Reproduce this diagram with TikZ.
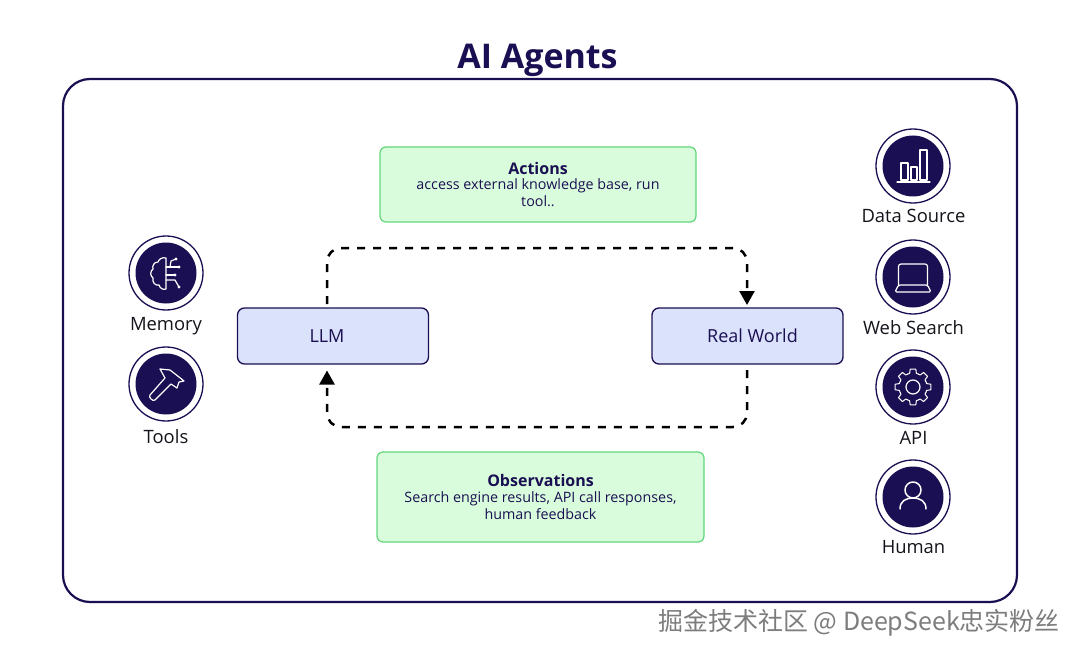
\documentclass[tikz,border=0pt]{standalone}
\usepackage{fontspec}
\setmainfont{Open Sans}
\newfontfamily\cjkwm{Noto Sans CJK SC}
\usetikzlibrary{arrows.meta}
\definecolor{navy}{HTML}{1A0F52}
\definecolor{bluefill}{HTML}{DBE2FB}
\definecolor{greenfill}{HTML}{D9FDDC}
\definecolor{greenline}{HTML}{62D67C}
\definecolor{labelink}{HTML}{14141C}
\definecolor{wmgray}{HTML}{7D7D7D}
\tikzset{
  x=1pt,y=-1pt,
  frame/.style={draw=navy,line width=2.2pt,rounded corners=27pt,fill=white},
  llmbox/.style={draw=navy,line width=1.3pt,fill=bluefill,rounded corners=7pt,minimum width=191pt,minimum height=56pt,inner sep=0pt,text=navy,font=\fontsize{18}{20}\selectfont},
  greenbox/.style={draw=greenline,line width=1.2pt,fill=greenfill,rounded corners=6pt,inner sep=0pt,text=navy,align=center,font=\fontsize{14.3}{16.8}\selectfont},
  titlefont/.style={font=\fontsize{34}{40}\selectfont\bfseries,text=navy},
  iconring/.style={circle,draw=navy,line width=1.3pt,fill=white,minimum size=74pt,inner sep=0pt},
  icondisc/.style={circle,fill=navy,minimum size=61pt,inner sep=0pt},
  iconlabel/.style={font=\fontsize{18.4}{20}\selectfont,text=labelink,inner sep=0pt},
  glyph/.style={draw=white,line width=1.2pt,line join=round,line cap=round},
  flow/.style={draw=black,line width=2.5pt,dash pattern=on 8pt off 8pt,rounded corners=14pt,-{Triangle[length=14pt,width=15pt,fill=black]}},
}
\newcommand{\icondisk}[3]{%
  \node[iconring] (#1ring) at (#2,#3) {};
  \node[icondisc] (#1) at (#2,#3) {};
}
\begin{document}
\begin{tikzpicture}
\useasboundingbox (0,0) rectangle (1080,658);
\fill[white] (0,0) rectangle (1080,658);
\node[titlefont,anchor=center] (title) at (537.5,60.5) {AI Agents};
\draw[frame] (63,79) rectangle (1017,602);

\node[llmbox] (llm) at (333,336) {\kern-12pt LLM};
\node[llmbox] (world) at (747.5,336) {\kern10pt Real World};
\node[greenbox,minimum width=316pt,minimum height=75pt] (actions) at (538,184.5)
  {{\bfseries\fontsize{16}{18}\selectfont Actions}\\[-1pt]access external knowledge base, run\\tool..};
\node[greenbox,minimum width=327pt,minimum height=90pt] (obs) at (540.5,497)
  {{\bfseries\fontsize{16}{18}\selectfont Observations}\\[-1pt]Search engine results, API call responses,\\human feedback};

\coordinate (llmtop) at (327,304);
\coordinate (worldtop) at (747,305);
\coordinate (worldbot) at (747,370);
\coordinate (llmbot) at (327,370.5);
\draw[flow] (llmtop) -- (327,248) -- (747,248) -- (worldtop);
\draw[flow] (worldbot) -- (747,427) -- (327,427) -- (llmbot);

% Memory
\icondisk{memory}{166}{273}
\node[iconlabel] (memorylabel) at (166,326) {Memory};
\begin{scope}[shift={(166,273)}]
  \draw[glyph] (0,-15) .. controls (-4,-16) and (-7,-14) .. (-8,-11)
    .. controls (-12,-11) and (-14,-7) .. (-13,-4)
    .. controls (-16,-2) and (-16,3) .. (-13,5)
    .. controls (-14,9) and (-11,13) .. (-7,12)
    .. controls (-6,16) and (-2,17) .. (0,16) -- cycle;
  \draw[glyph] (0,-6) -- (13,-6);
  \fill[white] (13,-6) circle (1.6);
  \draw[glyph] (4,-6) -- (5,-12) -- (10,-14);
  \fill[white] (10,-14) circle (1.6);
  \draw[glyph] (0,2) -- (9,2);
  \fill[white] (9,2) circle (1.6);
  \draw[glyph] (0,7) -- (9,7) -- (13,14);
  \fill[white] (13,14) circle (1.6);
\end{scope}
% Tools
\icondisk{tools}{166}{384}
\node[iconlabel] (toolslabel) at (166,437) {Tools};
\begin{scope}[shift={(166,384)}]
  \draw[glyph] (-6,-15) -- (4,-14) -- (13,-7) -- (18,-3) -- (13,-2) -- (11,4) -- (5,0) -- (-11,16)
     .. controls (-13,18) and (-18,13) .. (-16,11) -- (-1,-6) -- cycle;
\end{scope}
% Data Source
\icondisk{data}{913}{166}
\node[iconlabel] (datalabel) at (913.5,216) {Data Source};
\begin{scope}[shift={(913,166)}]
  \draw[glyph] (-12,-3) rectangle (-5,14);
  \draw[glyph] (-2,1) rectangle (4,14);
  \draw[glyph] (7,-16) rectangle (14,14);
  \draw[glyph] (-16,16) -- (17,16);
\end{scope}
% Web Search
\icondisk{web}{913}{277}
\node[iconlabel] (weblabel) at (913.5,328) {Web Search};
\begin{scope}[shift={(913,277)}]
  \draw[glyph,rounded corners=2.5pt] (-14.5,8) -- (-14.5,-13) -- (14.5,-13) -- (14.5,8);
  \draw[glyph,rounded corners=1.5pt] (-14.5,8) -- (14.5,8) -- (18,15) -- (-18,15) -- cycle;
\end{scope}
% API
\icondisk{api}{913}{387}
\node[iconlabel] (apilabel) at (913.5,438) {API};
\begin{scope}[shift={(913,387)}]
  \foreach \a in {0,45,...,315}{
    \draw[glyph,line width=1pt] ({\a-22.5}:14pt) -- ({\a-14}:14pt) -- ({\a-9}:18pt) -- ({\a+9}:18pt) -- ({\a+14}:14pt) -- ({\a+22.5}:14pt);
  }
  \draw[glyph] (0,0) circle (7);
\end{scope}
% Human
\icondisk{human}{913}{497}
\node[iconlabel] (humanlabel) at (913.5,547) {Human};
\begin{scope}[shift={(913,497)}]
  \draw[glyph,line width=1.5pt] (0,-7) circle (8);
  \draw[glyph,line width=1.5pt] (-13,12) .. controls (-13,4) and (-7,1) .. (0,1) .. controls (7,1) and (13,4) .. (13,12);
\end{scope}

\node[inner sep=0pt,text=wmgray,font=\cjkwm\fontsize{25}{28}\selectfont] (watermark) at (859,623) {掘金技术社区 @ DeepSeek忠实粉丝};
\end{tikzpicture}
\end{document}
